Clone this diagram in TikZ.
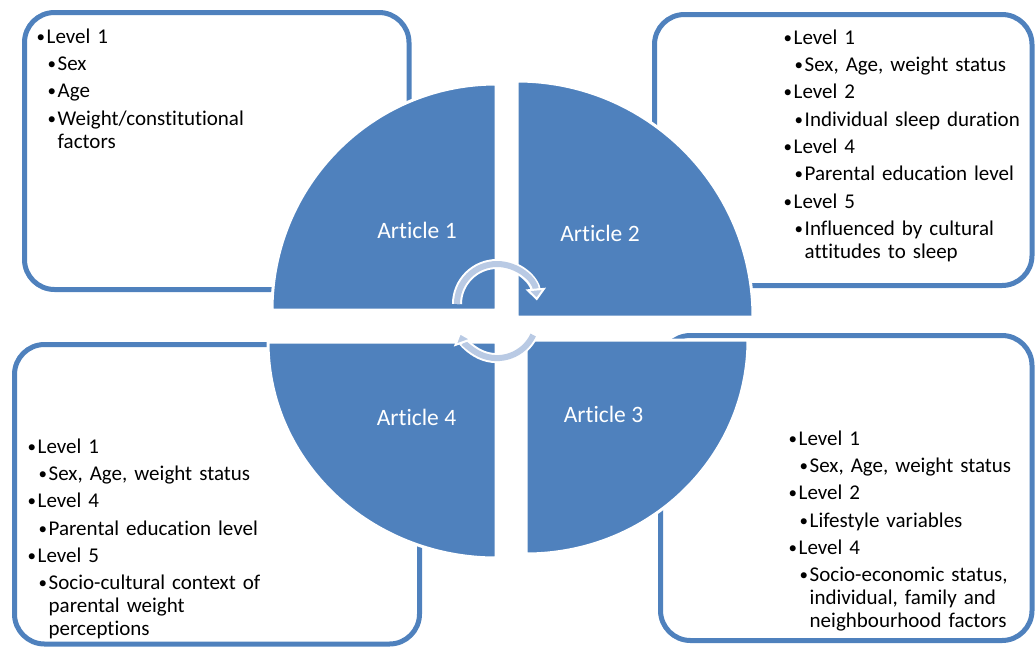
\documentclass[tikz,border=0pt]{standalone}
\usepackage{fontspec}
\setmainfont[Ligatures=NoCommon]{Carlito}
\definecolor{articleblue}{RGB}{79,129,189}
\definecolor{cyclelightblue}{RGB}{185,202,228}
\usetikzlibrary{arrows.meta}

\newcommand{\listbullet}{\makebox[10pt][l]{\raisebox{1pt}{\fontsize{17}{17}\selectfont\textbullet}}}
\newcommand{\levelone}[1]{\hangindent=10pt\hangafter=1\noindent\listbullet#1\par}
\newcommand{\leveltwo}[1]{\hangindent=21pt\hangafter=1\noindent\hspace*{11pt}\listbullet#1\par}

\begin{document}
\begin{tikzpicture}[x=1pt, y=-1pt,
    levelbox/.style={draw=articleblue, fill=white, line width=5pt, rounded corners=30pt},
    quadrant/.style={fill=articleblue, draw=white, line width=3pt},
    levellist/.style={anchor=north west, inner sep=0pt, text width=330pt, align=left,
        font=\fontsize{21}{23}\selectfont, execute at begin node={\setlength{\parskip}{4.3pt}}},
    articlelabel/.style={anchor=base, text=white, font=\fontsize{23.5}{28}\selectfont},
    cycleunder/.style={draw=white, line width=10pt, shorten >=9pt},
    cyclearrow/.style={draw=cyclelightblue, line width=6pt,
        -{Triangle[length=12pt, width=20pt, line width=2pt, color=white, fill=cyclelightblue]}}]
    \useasboundingbox (0,0) rectangle (1035,646);

    % outer boxes
    \draw[levelbox] (24.5,12.5) rectangle (409,289.5);
    \draw[levelbox] (654.5,14.5) rectangle (1032,285.5);
    \draw[levelbox] (14.5,344.5) rectangle (419.5,644);
    \draw[levelbox] (660.5,335.5) rectangle (1032,640.5);

    % quadrants of the circle
    \draw[quadrant] (496,310) -- ++(-224,0) arc[start angle=180, end angle=270, x radius=224, y radius=226] -- cycle;
    \draw[quadrant] (517,317) -- ++(0,-236) arc[start angle=270, end angle=360, radius=236] -- cycle;
    \draw[quadrant] (526,340) -- ++(222,0) arc[start angle=0, end angle=90, x radius=222, y radius=214] -- cycle;
    \draw[quadrant] (496,342) -- ++(0,216) arc[start angle=90, end angle=180, x radius=228, y radius=216] -- cycle;

    % cycle arrows
    \draw[cycleunder] (457,304) arc[start angle=180, end angle=355, radius=40];
    \draw[cyclearrow] (457,304) arc[start angle=180, end angle=355, radius=40];
    \draw[cycleunder] (533.2,335) arc[start angle=25, end angle=160, radius=40];
    \draw[cyclearrow] (533.2,335) arc[start angle=25, end angle=160, radius=40];

    % article labels
    \node[articlelabel] (art1) at (417,238) {Article 1};
    \node[articlelabel] (art2) at (600,241.5) {Article 2};
    \node[articlelabel] (art3) at (603.5,422) {Article 3};
    \node[articlelabel] (art4) at (416.5,425) {Article 4};

    % level lists
    \node[levellist] (list1) at (36.5,28.5) {%
        \levelone{Level 1}\leveltwo{Sex}\leveltwo{Age}%
        \leveltwo{Weight/constitutional\newline factors}};
    \node[levellist] (list2) at (783.5,29.5) {%
        \levelone{Level 1}\leveltwo{Sex, Age, weight status}%
        \levelone{Level 2}\leveltwo{Individual sleep duration}%
        \levelone{Level 4}\leveltwo{Parental education level}%
        \levelone{Level 5}\leveltwo{Influenced by cultural\newline attitudes to sleep}};
    \node[levellist] (list3) at (788.5,430.5) {%
        \levelone{Level 1}\leveltwo{Sex, Age, weight status}%
        \levelone{Level 2}\leveltwo{Lifestyle variables}%
        \levelone{Level 4}\leveltwo{Socio-economic status,\newline individual, family and\newline neighbourhood factors}};
    \node[levellist] (list4) at (27.5,438.5) {%
        \levelone{Level 1}\leveltwo{Sex, Age, weight status}%
        \levelone{Level 4}\leveltwo{Parental education level}%
        \levelone{Level 5}\leveltwo{Socio-cultural context of\newline parental weight\newline perceptions}};
\end{tikzpicture}
\end{document}
